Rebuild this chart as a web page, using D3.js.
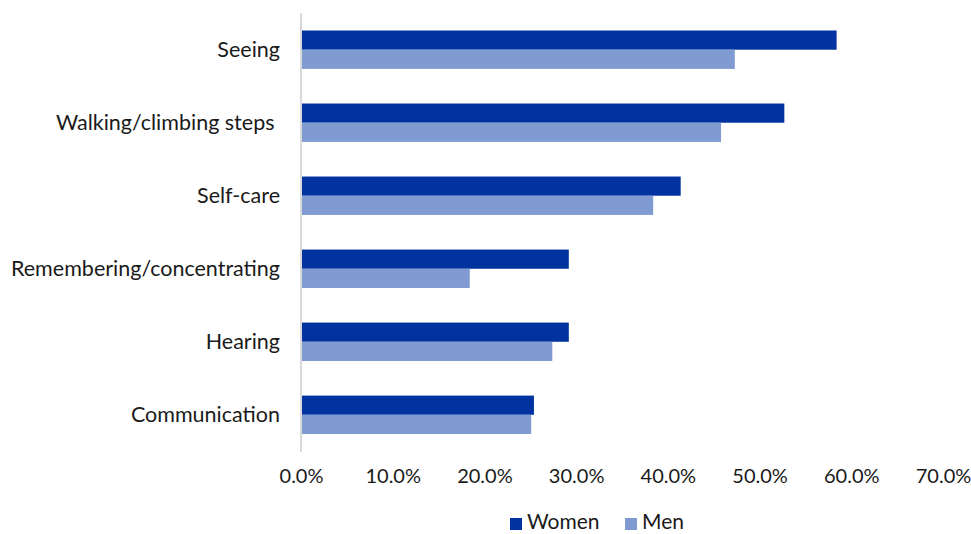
<!DOCTYPE html>
<html>
<head>
<meta charset="utf-8">
<script src="https://cdn.jsdelivr.net/npm/d3@7"></script>
<style>
  html, body { margin: 0; padding: 0; background: #fff; }
  svg { display: block; }
  text { font-family: Lato, "Open Sans", sans-serif; fill: #1a1a1a; }
</style>
</head>
<body>
<svg id="chart" width="971" height="534"></svg>
<script>
const categories = ["Seeing", "Walking/climbing steps ", "Self-care", "Remembering/concentrating", "Hearing", "Communication"];
const seriesNames = ["Women", "Men"];
const women = [58.4, 52.7, 41.4, 29.2, 29.2, 25.4];
const men = [47.3, 45.8, 38.4, 18.4, 27.4, 25.1];
const xTicks = [0, 10, 20, 30, 40, 50, 60, 70];
const colors = ["#0033a0", "#7f9bd1"];

const data = categories.map((c, i) => ({ cat: c, Women: women[i], Men: men[i] }));

const svg = d3.select("#chart");
const x = d3.scaleLinear().domain([0, 70]).range([301, 943]);
const y0 = d3.scaleBand().domain(categories).range([13.2, 451.3]).paddingInner(0.474).paddingOuter(0.237);
const y1 = d3.scaleBand().domain(seriesNames).range([0, y0.bandwidth()]);
const color = d3.scaleOrdinal().domain(seriesNames).range(colors);

// bars
const groups = svg.append("g").selectAll("g").data(data).join("g")
  .attr("transform", d => `translate(0,${y0(d.cat)})`);
groups.selectAll("rect").data(d => seriesNames.map(s => ({ s, v: d[s] }))).join("rect")
  .attr("x", x(0))
  .attr("y", d => y1(d.s))
  .attr("width", d => x(d.v) - x(0))
  .attr("height", y1.bandwidth())
  .attr("fill", d => color(d.s));

// vertical axis line
svg.append("line")
  .attr("x1", x(0)).attr("x2", x(0))
  .attr("y1", 13).attr("y2", 452)
  .attr("stroke", "#d9d9d9").attr("stroke-width", 2);

// category labels
const yAxis = d3.axisLeft(y0).tickSize(0).tickPadding(0);
const gy = svg.append("g").attr("transform", `translate(280,0)`).call(yAxis);
gy.select(".domain").remove();
gy.selectAll("text")
  .style("font-family", "Lato, sans-serif")
  .style("font-size", "21.5px")
  .style("white-space", "pre")
  .attr("fill", "#1a1a1a");

// x tick labels
const xAxis = d3.axisBottom(x).tickValues(xTicks).tickSize(0).tickPadding(0).tickFormat(d => d3.format(".1f")(d) + "%");
const gx = svg.append("g").attr("transform", `translate(0,469)`).call(xAxis);
gx.select(".domain").remove();
gx.selectAll("text")
  .style("font-family", "Lato, sans-serif")
  .style("font-size", "20px")
  .attr("fill", "#1a1a1a");

// legend
const legend = svg.append("g");
const legendItems = [{ s: "Women", x: 510 }, { s: "Men", x: 625 }];
legendItems.forEach(it => {
  legend.append("rect").attr("x", it.x).attr("y", 518).attr("width", 12).attr("height", 12).attr("fill", color(it.s));
  legend.append("text").attr("x", it.x + 17).attr("y", 529)
    .style("font-size", "21px").text(it.s);
});
</script>
</body>
</html>
